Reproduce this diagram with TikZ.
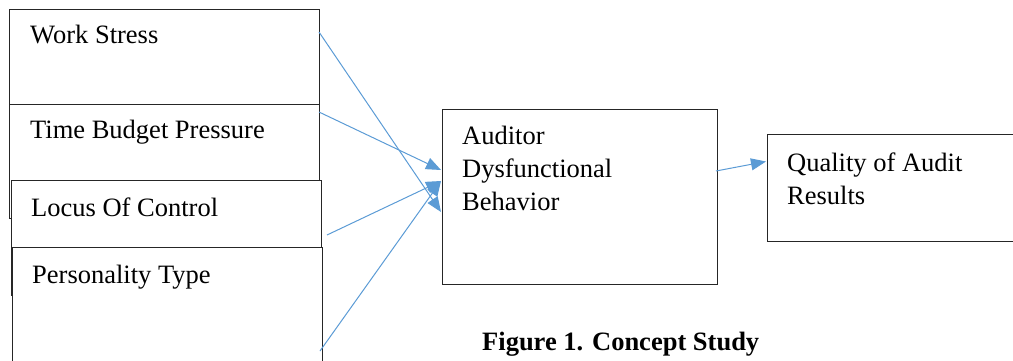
\documentclass[tikz,border=0pt]{standalone}
\usepackage{fontspec}
\setmainfont{Liberation Serif}
\usetikzlibrary{arrows.meta}
\definecolor{linkblue}{HTML}{5B9BD5}
\begin{document}
\begin{tikzpicture}[x=1pt,y=-1pt,
  box/.style={draw=black!85,line width=1.1pt,fill=white,inner sep=0pt,anchor=north west},
  txt/.style={anchor=base west,inner sep=0pt,font=\fontsize{26.5}{33}\selectfont,align=left},
  link/.style={draw=linkblue,line width=1pt,-{Triangle[length=15pt,width=12pt]}}]
\useasboundingbox (0,0) rectangle (1013,360);
\begin{scope}
\clip (0,0) rectangle (1013,360);
% stacked input boxes, each drawn over the previous one
\node[box,minimum width=310pt,minimum height=95pt] (ws) at (9,9) {};
\node[box,minimum width=310pt,minimum height=114pt] (tbp) at (9,104) {};
\node[box,minimum width=310pt,minimum height=115pt] (loc) at (11,180) {};
\node[box,minimum width=310pt,minimum height=130pt] (pers) at (12,247) {};
% mediator and outcome
\node[box,minimum width=275pt,minimum height=175pt] (adb) at (441.5,109) {};
\node[box,minimum width=270pt,minimum height=107pt] (qar) at (766.5,134) {};

\node[txt] (t-ws) at (30,43) {Work Stress};
\node[txt] (t-tbp) at (30,138) {Time Budget Pressure};
\node[txt] (t-loc) at (31,216) {Locus Of Control};
\node[txt] (t-pers) at (32,283) {Personality Type};
\node[txt,anchor=north west] (t-adb) at (462,126) {Auditor\\Dysfunctional\\Behavior};
\node[txt,anchor=north west] (t-qar) at (787,153) {Quality of Audit\\Results};
\node[txt,font=\fontsize{26.5}{33}\selectfont\bfseries] (cap) at (482,350) {Figure 1. Concept Study};

% connector end points
\coordinate (ws-o) at (319,32);
\coordinate (tbp-o) at (319,112);
\coordinate (loc-o) at (327,235);
\coordinate (pers-o) at (320,351);
\coordinate (adb-a) at (441,170);
\coordinate (adb-b) at (441,181);
\coordinate (adb-c) at (441,212);
\coordinate (adb-o) at (716,171);
\coordinate (qar-i) at (766,161.5);

\draw[link] (ws-o) -- (adb-c);
\draw[link] (tbp-o) -- (adb-a);
\draw[link] (loc-o) -- (adb-b);
\draw[link] (pers-o) -- (adb-b);
\draw[link] (adb-o) -- (qar-i);
\end{scope}
\end{tikzpicture}
\end{document}
